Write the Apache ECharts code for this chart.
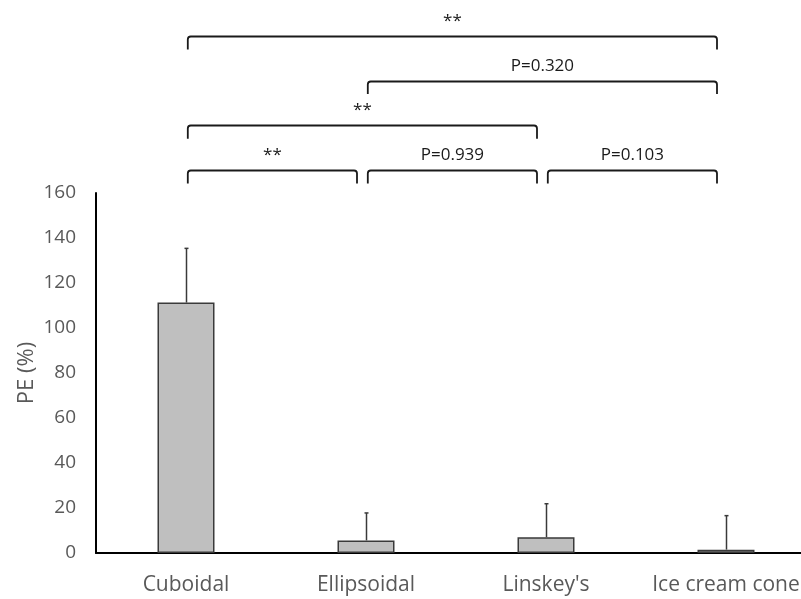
<!DOCTYPE html>
<html>
<head>
<meta charset="utf-8">
<script src="https://cdn.jsdelivr.net/npm/echarts@6/dist/echarts.min.js"></script>
<style>
  html, body { margin: 0; padding: 0; background: #fff; }
  #chart { width: 801px; height: 599px; }
</style>
</head>
<body>
<div id="chart"></div>
<script>
// Shapes and their mean PE (%) with standard deviation
const categories = ['Cuboidal', 'Ellipsoidal', "Linskey's", 'Ice cream cone'];
const meanValues = [111.3, 5.6, 7.0, 1.5];
const sdValues = [24.1, 12.2, 14.9, 15.1];

// Pairwise comparisons: [from category, to category, stacking level, label]
const comparisons = [
  [0, 1, 0, '**'],
  [1, 2, 0, 'P=0.939'],
  [2, 3, 0, 'P=0.103'],
  [0, 2, 1, '**'],
  [1, 3, 2, 'P=0.320'],
  [0, 3, 3, '**']
];

const yTicks = { min: 0, max: 160, interval: 20 };

const FONT = '"Open Sans", "Noto Sans", sans-serif';
const chart = echarts.init(document.getElementById('chart'), null, { renderer: 'canvas' });

const errorData = categories.map((c, i) => [i, meanValues[i], sdValues[i]]);

// the plot runs past the right edge of the canvas, so the last label is cut off
chart.setOption({
  animation: false,
  backgroundColor: '#ffffff',
  grid: [
    { left: 96, top: 193, width: 720, bottom: 46, outerBoundsMode: 'none', containLabel: false },
    { left: 96, top: 36, width: 720, height: 134, outerBoundsMode: 'none', containLabel: false }
  ],
  xAxis: [
    {
      type: 'category',
      gridIndex: 0,
      data: categories,
      axisLine: { lineStyle: { color: '#000', width: 2 } },
      axisTick: { show: false },
      axisLabel: { color: '#595959', fontSize: 21, fontFamily: FONT, margin: 22, interval: 0, hideOverlap: false }
    },
    {
      type: 'value',
      gridIndex: 1,
      min: -0.5,
      max: 3.5,
      show: false
    }
  ],
  yAxis: [
    {
      type: 'value',
      gridIndex: 0,
      min: yTicks.min,
      max: yTicks.max,
      interval: yTicks.interval,
      name: 'PE (%)',
      nameLocation: 'middle',
      nameGap: 58,
      nameMoveOverlap: false,
      nameTextStyle: { color: '#595959', fontSize: 22, fontFamily: FONT },
      axisLine: { show: true, lineStyle: { color: '#000', width: 2 } },
      axisTick: { show: false },
      splitLine: { show: false },
      axisLabel: { color: '#595959', fontSize: 19, fontFamily: FONT, margin: 20 }
    },
    {
      type: 'value',
      gridIndex: 1,
      min: 0,
      max: 3,
      show: false
    }
  ],
  series: [
    {
      type: 'bar',
      xAxisIndex: 0,
      yAxisIndex: 0,
      data: meanValues,
      barWidth: 57,
      itemStyle: { color: '#bfbfbf', borderColor: '#3a3a3a', borderWidth: 1.5 },
      z: 2
    },
    {
      // upper error bars
      type: 'custom',
      xAxisIndex: 0,
      yAxisIndex: 0,
      data: errorData,
      z: 3,
      renderItem: function (params, api) {
        const x = api.value(0);
        const m = api.value(1);
        const s = api.value(2);
        const base = api.coord([x, m]);
        const top = api.coord([x, m + s]);
        const cx = Math.round(base[0]) + 0.5;
        return {
          type: 'group',
          children: [
            { type: 'line', shape: { x1: cx, y1: base[1], x2: cx, y2: top[1] },
              style: { stroke: '#3a3a3a', lineWidth: 1.5 } },
            { type: 'line', shape: { x1: cx - 2, y1: top[1], x2: cx + 2, y2: top[1] },
              style: { stroke: '#3a3a3a', lineWidth: 1.5 } }
          ]
        };
      }
    },
    {
      // significance brackets
      type: 'custom',
      xAxisIndex: 1,
      yAxisIndex: 1,
      data: comparisons,
      clip: false,
      renderItem: function (params, api) {
        const a = api.value(0);
        const b = api.value(1);
        const lvl = api.value(2);
        const label = comparisons[params.dataIndex][3];
        const p1 = api.coord([a + 0.01, lvl]);
        const p2 = api.coord([b - 0.05, lvl]);
        const drop = api.coord([a, lvl - 0.3])[1];
        const y = Math.round(p1[1]) + 0.5;
        const x1 = p1[0], x2 = p2[0], r = 3;
        const path = 'M' + x1 + ' ' + drop + ' L' + x1 + ' ' + (y + r) +
          ' Q' + x1 + ' ' + y + ' ' + (x1 + r) + ' ' + y +
          ' L' + (x2 - r) + ' ' + y +
          ' Q' + x2 + ' ' + y + ' ' + x2 + ' ' + (y + r) +
          ' L' + x2 + ' ' + drop;
        return {
          type: 'group',
          children: [
            { type: 'path', shape: { pathData: path },
              style: { stroke: '#1a1a1a', lineWidth: 1.8, fill: null } },
            { type: 'text',
              style: { text: label, x: (x1 + x2) / 2, y: y - 15,
                       textAlign: 'center', textVerticalAlign: 'middle',
                       fill: '#1a1a1a', font: '17px ' + FONT } }
          ]
        };
      }
    }
  ]
});
</script>
</body>
</html>
